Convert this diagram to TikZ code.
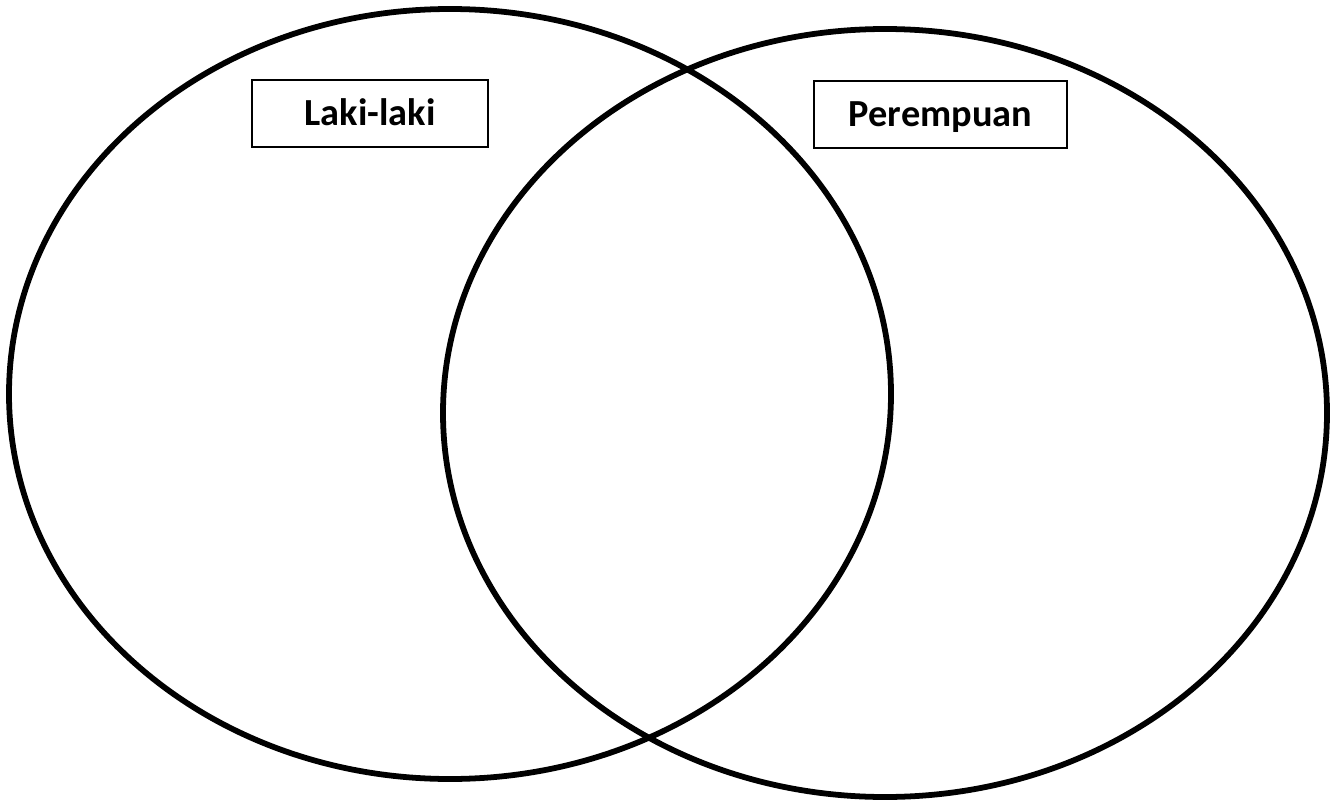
\documentclass[tikz,border=0pt]{standalone}
\usepackage{fontspec}
\setmainfont{Carlito}
\begin{document}
\begin{tikzpicture}[x=0.02cm,y=-0.02cm,
  setline/.style={line width=5.8*0.567pt, draw=black},
  labelbox/.style={draw=black, line width=2.2*0.567pt, font=\fontsize{21.8pt}{26pt}\selectfont\bfseries,
    inner sep=0pt, text height=0.914cm, text depth=0.426cm, align=center}]
\useasboundingbox (0,0) rectangle (1333,801);
\fill[white] (0,0) rectangle (1333,801);
\draw[setline] (450,394) ellipse [x radius=441, y radius=385];
\draw[setline] (885,413) ellipse [x radius=442, y radius=384];
\node[labelbox, text width=236*0.02cm] (laki) at (370,113.5) {Laki-laki};
\node[labelbox, text width=253*0.02cm] (perempuan) at (940.5,114.5) {Perempuan};
\end{tikzpicture}
\end{document}
